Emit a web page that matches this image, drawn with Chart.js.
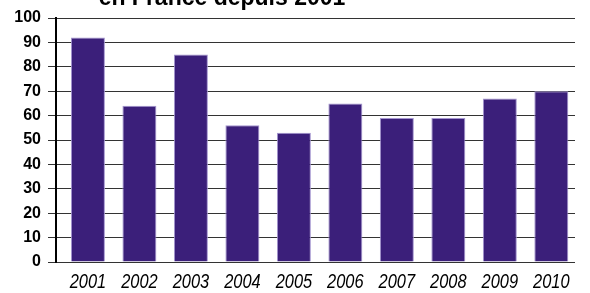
<!DOCTYPE html>
<html>
<head>
<meta charset="utf-8">
<script src="https://cdn.jsdelivr.net/npm/chart.js@4"></script>
<style>
  html, body { margin: 0; padding: 0; background: #fff; }
  #wrap { width: 590px; height: 293px; }
</style>
</head>
<body>
<div id="wrap"><canvas id="myBarChart"></canvas></div>
<script>
// Chart data
const years = ['2001', '2002', '2003', '2004', '2005', '2006', '2007', '2008', '2009', '2010'];
const values = [92, 64, 85, 56, 53, 65, 59, 59, 67, 70];
const titleText = 'en France depuis 2001';

// Title sits mostly above the picture, only its bottom shows
const cutTitle = {
  id: 'cutTitle',
  afterDraw(chart) {
    const ctx = chart.ctx;
    ctx.save();
    ctx.font = 'bold 23px "Liberation Sans", Arial, sans-serif';
    ctx.fillStyle = '#000';
    ctx.textAlign = 'center';
    ctx.textBaseline = 'alphabetic';
    ctx.fillText(titleText, 222, 5);
    ctx.restore();
  }
};

// Year labels, drawn narrow (condensed italic) under each bar
const yearLabels = {
  id: 'yearLabels',
  afterDraw(chart) {
    const ctx = chart.ctx;
    const xScale = chart.scales.x;
    ctx.save();
    ctx.font = 'italic 20px "Liberation Sans", Arial, sans-serif';
    ctx.fillStyle = '#000';
    ctx.textAlign = 'center';
    ctx.textBaseline = 'alphabetic';
    years.forEach((yr, i) => {
      ctx.save();
      ctx.translate(xScale.getPixelForValue(i), chart.chartArea.bottom + 26);
      ctx.scale(0.82, 1);
      ctx.fillText(yr, 0, 0);
      ctx.restore();
    });
    ctx.restore();
  }
};

const ctxBar = document.getElementById('myBarChart').getContext('2d');
window.myBarChart = new Chart(ctxBar, {
  type: 'bar',
  data: {
    datasets: [{
      data: values.map((v, i) => ({ x: i, y: v })),
      backgroundColor: '#3b1f7a',
      borderColor: '#a394cf',
      borderWidth: 1,
      barPercentage: 0.66,
      categoryPercentage: 1
    }]
  },
  options: {
    responsive: true,
    maintainAspectRatio: false,
    animation: false,
    layout: { padding: { top: 18, right: 15, left: 0, bottom: 0 } },
    plugins: {
      legend: { display: false },
      tooltip: { enabled: false }
    },
    scales: {
      x: {
        type: 'linear',
        offset: false,
        min: -0.62,
        max: 9.46,
        grid: { display: false },
        border: { display: false },
        ticks: { display: false, stepSize: 1 },
        afterFit(scale) { scale.height = 31; }
      },
      y: {
        min: 0,
        max: 100,
        ticks: {
          stepSize: 10,
          color: '#000',
          padding: 7,
          font: { family: '"Liberation Sans", Arial, sans-serif', size: 16, weight: 'bold' }
        },
        grid: { color: '#333', lineWidth: 1, tickLength: 8 },
        border: { display: true, color: '#000', width: 2 },
        afterFit(scale) { scale.width = 56; }
      }
    }
  },
  plugins: [cutTitle, yearLabels]
});
</script>
</body>
</html>
